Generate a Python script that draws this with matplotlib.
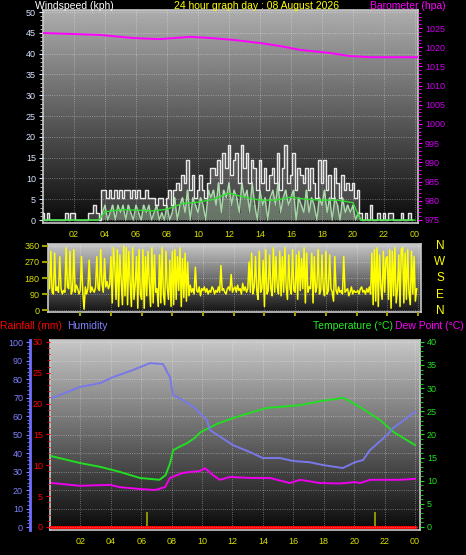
import numpy as np
import matplotlib.pyplot as plt
from matplotlib.ticker import MultipleLocator

# --- wind, 10 minute steps (kph) ---
gust = [1.8, 0, 1.8, 0, 0, 0,
        0, 0, 0, 1.8, 0, 1.8,
        1.8, 0, 0, 0, 0, 0,
        1.8, 1.8, 3.6, 1.8, 0, 7.2,
        7.2, 5.4, 7.2, 5.4, 7.2, 5.4,
        7.2, 5.4, 7.2, 7.2, 5.4, 7.2,
        5.4, 7.2, 5.4, 5.4, 7.2, 5.4,
        5.4, 5.4, 3.6, 5.4, 5.4, 3.6,
        5.4, 7.2, 3.6, 7.2, 9.0, 7.2,
        10.8, 9.0, 14.4, 7.2, 10.8, 5.4,
        7.2, 10.8, 7.2, 5.4, 9.0, 12.6,
        12.6, 10.8, 14.4, 9.0, 16.2, 12.6,
        18.0, 10.8, 14.4, 16.2, 9.0, 18.0,
        12.6, 16.2, 9.0, 14.4, 12.6, 7.2,
        14.4, 9.0, 12.6, 7.2, 10.8, 12.6,
        9.0, 16.2, 7.2, 12.6, 18.0, 9.0,
        10.8, 16.2, 7.2, 12.6, 10.8, 9.0,
        12.6, 7.2, 12.6, 9.0, 5.4, 14.4,
        9.0, 14.4, 7.2, 10.8, 5.4, 12.6,
        9.0, 5.4, 10.8, 7.2, 9.0, 7.2,
        9.0, 5.4, 7.2, 1.8, 0, 1.8,
        0, 3.6, 0, 0, 1.8, 0,
        1.8, 0, 1.8, 1.8, 0, 0,
        0, 1.8, 0, 0, 1.8, 0]

speed = [0, 0, 0, 0, 0, 0,
         0, 0, 0, 0, 0, 0,
         0, 0, 0, 0, 0, 0,
         0, 0, 0, 0, 0, 1.8,
         3.6, 0, 1.8, 3.6, 0, 3.6,
         1.8, 3.6, 0, 3.6, 1.8, 0,
         3.6, 1.8, 0, 3.6, 1.8, 3.6,
         0, 1.8, 3.6, 0, 1.8, 0,
         3.6, 0, 1.8, 5.4, 0, 3.6,
         5.4, 1.8, 7.2, 0, 5.4, 3.6,
         1.8, 5.4, 3.6, 0, 7.2, 5.4,
         7.2, 3.6, 9.0, 1.8, 7.2, 5.4,
         9.0, 3.6, 7.2, 5.4, 1.8, 9.0,
         5.4, 7.2, 1.8, 9.0, 3.6, 0,
         7.2, 3.6, 5.4, 0, 5.4, 7.2,
         3.6, 9.0, 1.8, 5.4, 7.2, 3.6,
         5.4, 7.2, 0, 5.4, 3.6, 1.8,
         7.2, 1.8, 5.4, 3.6, 0, 5.4,
         3.6, 7.2, 1.8, 5.4, 0, 5.4,
         3.6, 0, 5.4, 1.8, 3.6, 1.8,
         3.6, 0, 1.8, 0, 0, 0,
         0, 0, 0, 0, 0, 0,
         0, 0, 0, 0, 0, 0,
         0, 0, 0, 0, 0, 0]

avg_hours = [0, 3.6, 4, 5, 6, 7, 8, 9, 10, 11, 12, 13, 14, 15, 16, 17, 18, 19, 20, 20.5, 24]
avg_kph = [0, 0, 2.0, 2.5, 2.4, 2.2, 2.6, 4.0, 4.3, 5.0, 6.5, 5.5, 4.8, 4.8, 5.5, 5.0, 4.8, 4.8, 4.2, 0, 0]

baro_hours = [0, 3.7, 5.8, 7.5, 9.5, 10.8, 12.3, 14, 15.3, 16.6, 18.5, 19.8, 21.1, 24.2]
baro_hpa = [1023.7, 1023.2, 1022.4, 1022.1, 1022.7, 1022.4, 1021.9, 1021.1, 1020.3, 1019.3,
            1018.5, 1017.7, 1017.4, 1017.4]

# --- wind direction, 5 minute steps (deg) ---
direction = [120, 330, 100, 90, 320, 110, 130, 100, 300, 120, 90, 110,
             100, 350, 130, 120, 330, 90, 110, 340, 100, 140, 120, 90,
             110, 300, 100, 5, 130, 90, 120, 280, 100, 130, 110, 100,
             130, 300, 120, 110, 340, 150, 100, 290, 130, 160, 120, 140,
             300, 40, 350, 250, 60, 340, 20, 310, 170, 30, 360, 80,
             350, 30, 330, 160, 20, 350, 60, 140, 300, 10, 340, 90,
             60, 340, 10, 300, 80, 330, 150, 20, 350, 40, 310, 100,
             120, 20, 310, 40, 350, 90, 30, 330, 130, 60, 280, 20,
             330, 30, 340, 60, 300, 110, 350, 20, 290, 70, 320, 50,
             270, 80, 140, 100, 120, 90, 240, 110, 100, 130, 80, 120,
             110, 130, 100, 120, 90, 110, 100, 130, 120, 90, 110, 100,
             130, 100, 250, 110, 120, 100, 90, 120, 130, 110, 200, 100,
             120, 130, 100, 140, 110, 120, 90, 150, 110, 130, 100, 120,
             270, 100, 320, 90, 130, 300, 110, 60, 330, 100, 120, 280,
             20, 340, 90, 110, 310, 120, 80, 350, 100, 300, 130, 90,
             330, 80, 300, 100, 350, 130, 60, 310, 120, 90, 340, 110,
             100, 310, 60, 330, 110, 290, 120, 350, 40, 320, 100, 130,
             120, 320, 40, 300, 100, 130, 340, 90, 110, 310, 120, 80,
             330, 90, 110, 310, 120, 100, 50, 300, 110, 90, 130, 100,
             110, 90, 300, 100, 110, 120, 80, 100, 130, 90, 110, 100,
             100, 110, 90, 120, 130, 100, 110, 90, 120, 100, 130, 90,
             320, 30, 340, 50, 350, 20, 310, 130, 60, 330, 100, 290,
             300, 60, 340, 10, 330, 80, 350, 40, 120, 310, 20, 340,
             350, 40, 320, 60, 340, 100, 30, 330, 90, 300, 50, 120]

# --- temperature / humidity / dew point ---
temp_hours = [0.1, 2.0, 3.3, 4.6, 5.9, 7.2, 7.6, 7.9, 8.1, 8.5, 9.0, 9.5, 9.9, 11.0, 12.0,
              14.2, 16.4, 17.8, 19.3, 20.4, 21.7, 22.6, 24.0]
temp_c = [15.3, 13.8, 13.0, 11.9, 10.6, 10.2, 11.2, 13.8, 16.6, 17.3, 18.1, 19.2, 20.5, 22.3, 23.5,
          25.7, 26.3, 27.2, 27.9, 25.9, 23.1, 20.5, 17.7]

hum_hours = [0.13, 1.97, 3.29, 4.14, 5.46, 6.57, 7.43, 7.89, 8.09, 8.74, 9.53, 10.32, 10.52,
             11.83, 12.03, 13.15, 14.0, 15.12, 15.98, 17.1, 17.95, 19.26, 20.05, 20.58,
             21.04, 22.16, 22.55, 23.01, 24.0]
hum_pct = [69.7, 75.7, 77.8, 81, 84.9, 88.6, 88.1, 81, 71.4, 68.6, 64.3, 57.8, 52.4,
           45.4, 44.3, 40.5, 37.3, 37.3, 35.7, 35, 33.5, 31.9, 35, 36.2,
           41.6, 49.7, 53.5, 56.2, 62.2]

dew_hours = [0.13, 1.97, 3.94, 4.6, 5.92, 6.9, 7.56, 7.89, 8.74, 9.86, 10.19, 10.72, 11.18,
             11.83, 13.15, 14.46, 15.78, 16.44, 17.75, 19.07, 20.05, 20.4, 21.04, 23.01, 24.0]
dew_c = [9.5, 8.9, 9.1, 8.6, 8.2, 8.0, 8.6, 10.6, 11.7, 12.1, 12.7, 11.2, 10.2,
         10.8, 10.6, 10.6, 9.5, 10.2, 9.5, 9.4, 9.7, 9.5, 10.2, 10.2, 10.4]

rain_hours = [0, 24]
rain_mm = [0, 0]
mark_hours = [6.35, 21.4]
mark_mm = [2.4, 2.4]

xtick_hours = [2, 4, 6, 8, 10, 12, 14, 16, 18, 20, 22, 24]
xtick_labels = ['02', '04', '06', '08', '10', '12', '14', '16', '18', '20', '22', '00']

t10 = np.arange(len(gust)) / 6
t5 = np.arange(len(direction)) / 12

W, H = 466, 555
YEL = '#d8e000'


def box(l, t, r, b):
    return [l / W, (H - b) / H, (r - l) / W, (b - t) / H]


def shade(ax, top, bottom):
    g = np.linspace(top, bottom, 256).reshape(-1, 1)
    ax.imshow(g, cmap='gray', vmin=0, vmax=1, extent=[0, 1, 0, 1],
              transform=ax.transAxes, aspect='auto', zorder=0)


def frame(ax):
    for s in ax.spines.values():
        s.set_color('#c8c8c8')
        s.set_linewidth(1.2)
    ax.grid(color='white', linestyle=':', linewidth=0.6, alpha=0.45)
    ax.set_axisbelow(False)


plt.rcParams['font.family'] = ['Liberation Sans', 'DejaVu Sans']
fig = plt.figure(figsize=(W / 100, H / 100), dpi=100, facecolor='black')

# ---------------- top panel: wind + barometer ----------------
ax1 = fig.add_axes(box(43, 10, 418, 223))
shade(ax1, 0.68, 0.04)
ax1.fill_between(t10, speed, color='#b8f0b8', alpha=0.35, step='mid', lw=0, zorder=2)
ax1.fill_between(t10, gust, color='#a0a0a0', alpha=0.35, step='mid', lw=0, zorder=2)
ax1.plot(t10, speed, color='#b8f0b8', lw=1.0, alpha=0.85, zorder=3)
ax1.plot(t10, gust, color='#e8e8e8', lw=1.0, drawstyle='steps-mid', zorder=3)
ax1.plot(avg_hours, avg_kph, color='#30e030', lw=1.0, zorder=4)
ax1.set_xlim(0, 24.2)
ax1.set_ylim(-0.7, 50.5)
ax1.set_xticks(xtick_hours)
ax1.set_xticklabels(xtick_labels)
ax1.yaxis.set_major_locator(MultipleLocator(5))
ax1.yaxis.set_minor_locator(MultipleLocator(1))
ax1.tick_params(axis='y', colors='#d8e4ff', labelsize=6.5, length=3, pad=2)
ax1.tick_params(axis='y', which='minor', colors='#c8c8c8', length=2)
ax1.tick_params(axis='x', colors=YEL, labelsize=6.5, length=0, pad=5)
frame(ax1)

bx = ax1.twinx()
bx.plot(baro_hours, baro_hpa, color='#ff00ff', lw=1.4)
bx.set_ylim(974.2, 1029.7)
bx.yaxis.set_major_locator(MultipleLocator(5))
bx.yaxis.set_minor_locator(MultipleLocator(1))
bx.tick_params(axis='y', colors='#ff00ff', labelcolor='#cc00ee', labelsize=6.5, length=3, pad=2)
bx.tick_params(axis='y', which='minor', colors='#ff00ff', length=2)
for s in bx.spines.values():
    s.set_visible(False)

fig.text(35 / W, 1 - 6 / H, 'Windspeed (kph)', color='white', fontsize=7.5, va='center')
fig.text(257 / W, 1 - 6 / H, '24 hour graph day : 08 August 2026', color='#ffff00',
         fontsize=7.5, va='center', ha='center')
fig.text(446 / W, 1 - 6 / H, 'Barometer (hpa)', color='#ff00ff', fontsize=7.5, va='center', ha='right')

# ---------------- middle panel: wind direction ----------------
ax2 = fig.add_axes(box(48, 244, 421, 312))
shade(ax2, 0.78, 0.08)
ax2.plot(t5, direction, color='#ffff00', lw=1.1, zorder=3)
ax2.set_xlim(-0.1, 24.2)
ax2.set_ylim(-11, 371)
ax2.set_yticks([0, 90, 180, 270, 360])
ax2.set_xticks(xtick_hours)
ax2.set_xticklabels([])
ax2.tick_params(axis='y', colors='#a0a000', labelcolor=YEL, labelsize=6.5, length=4, width=1.5, pad=2)
ax2.tick_params(axis='x', colors='#a0a000', length=3, width=1.5)
frame(ax2)

for letter, ypx in zip(['N', 'W', 'S', 'E', 'N'], [246, 262, 278, 295, 311]):
    fig.text(440 / W, 1 - ypx / H, letter, color='#ffff00', fontsize=8.5, ha='center', va='center')

# ---------------- bottom panel: rain, humidity, temperature ----------------
ax3 = fig.add_axes(box(50, 340, 420, 530))
shade(ax3, 0.78, 0.04)
ax3.plot(rain_hours, rain_mm, color='#ff0000', lw=2.2, zorder=4)
ax3.vlines(mark_hours, 0, mark_mm, color='#a8a800', lw=1.2, zorder=3)
ax3.set_xlim(0, 24.33)
ax3.set_ylim(-0.49, 30.3)
ax3.set_xticks(xtick_hours)
ax3.set_xticklabels(xtick_labels)
ax3.yaxis.set_major_locator(MultipleLocator(5))
ax3.yaxis.set_minor_locator(MultipleLocator(1))
ax3.tick_params(axis='y', colors='#ff0000', labelsize=6.5, length=3, pad=2)
ax3.tick_params(axis='y', which='minor', colors='#cc0000', length=2)
ax3.tick_params(axis='x', colors=YEL, labelsize=6.5, length=0, pad=5)
frame(ax3)
ax3.grid(axis='y', visible=False)

hx = ax3.twinx()
hx.yaxis.set_label_position('left')
hx.yaxis.tick_left()
hx.spines['left'].set_position(('outward', 14.4))
hx.spines['left'].set_color('#6f6fff')
hx.spines['left'].set_linewidth(2)
for s in ['right', 'top', 'bottom']:
    hx.spines[s].set_visible(False)
hx.set_ylim(-1.6, 101.1)
hx.yaxis.set_major_locator(MultipleLocator(10))
hx.yaxis.set_minor_locator(MultipleLocator(2))
hx.tick_params(axis='y', colors='#8080ff', labelsize=6.5, length=3, pad=2)
hx.tick_params(axis='y', which='minor', colors='#8080ff', length=2)
hx.grid(axis='y', color='white', linestyle=':', linewidth=0.6, alpha=0.45)

tx = ax3.twinx()
tx.plot(temp_hours, temp_c, color='#22dd22', lw=1.4, zorder=3)
tx.plot(dew_hours, dew_c, color='#ee00ee', lw=1.4, zorder=3)
tx.set_ylim(-0.65, 40.4)
tx.yaxis.set_major_locator(MultipleLocator(5))
tx.yaxis.set_minor_locator(MultipleLocator(1))
tx.tick_params(axis='y', colors='#22dd22', labelsize=6.5, length=3, pad=2)
tx.tick_params(axis='y', which='minor', colors='#22dd22', length=2)
for s in tx.spines.values():
    s.set_visible(False)

# humidity drawn on top of the temperature axes so it stays in front
hx2 = ax3.twinx()
hx2.plot(hum_hours, hum_pct, color='#7878e8', lw=1.4)
hx2.set_ylim(-1.6, 101.1)
hx2.set_yticks([])
for s in hx2.spines.values():
    s.set_visible(False)

fig.text(0, 1 - 326 / H, 'Rainfall (mm)', color='#ff0000', fontsize=7.5, va='center')
fig.text(67 / W, 1 - 326 / H, 'Humidity', color='#8080ff', fontsize=7.5, va='center')
fig.text(313 / W, 1 - 326 / H, 'Temperature (°C)', color='#22ee22', fontsize=7.5, va='center')
fig.text(464 / W, 1 - 326 / H, 'Dew Point (°C)', color='#ff00ff', fontsize=7.5, va='center', ha='right')

fig.savefig('out.png', dpi=100, facecolor='black')
